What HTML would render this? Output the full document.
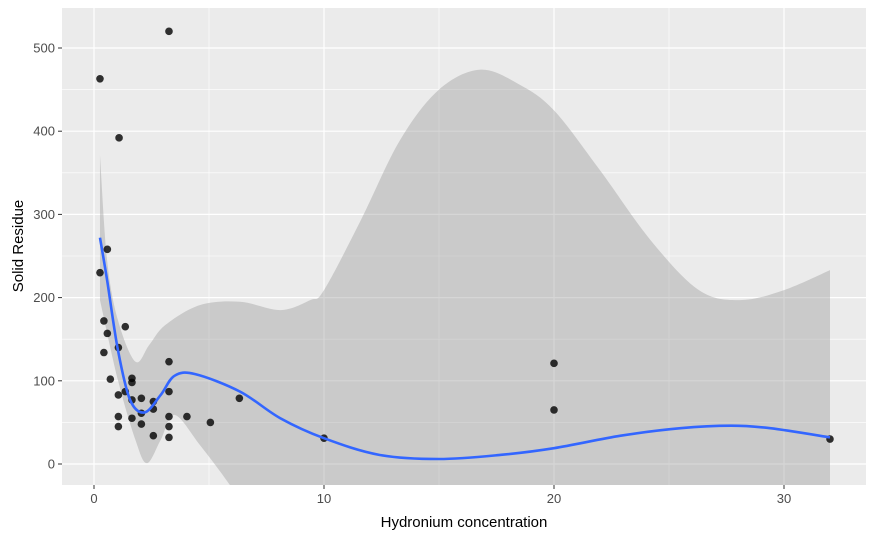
<!DOCTYPE html>
<html><head><meta charset="utf-8"><style>
html,body{margin:0;padding:0;background:#fff;overflow:hidden;width:875px;height:540px;font-family:"Liberation Sans",Arial,sans-serif}
svg{display:block;overflow:hidden}
</style></head><body>
<svg width="875" height="540" viewBox="0 0 875 540" xmlns="http://www.w3.org/2000/svg" id="chart">
<defs><clipPath id="clip"><rect x="62" y="8" width="804" height="477"/></clipPath></defs>
<rect x="62" y="8" width="804" height="477" fill="#ebebeb"/>
<g id="grid"></g>
<g id="band" clip-path="url(#clip)"></g>
<g id="pts" clip-path="url(#clip)"></g>
<g id="ticks"></g>
<text x="464" y="527" text-anchor="middle" font-size="15" fill="#000">Hydronium concentration</text>
<text transform="translate(23,246) rotate(-90)" text-anchor="middle" font-size="15" fill="#000">Solid Residue</text>
</svg>
<script>
const pointX=[0.26,1.09,3.26,0.58,0.26,0.43,0.58,1.36,1.06,0.43,0.71,1.65,1.65,3.26,1.06,1.36,1.65,2.06,2.58,2.58,3.26,2.06,1.06,1.65,3.26,4.04,5.06,1.06,2.06,3.26,2.58,3.26,6.32,20,20,10,32];
const pointY=[463,392,520,258,230,172,157,165,140,134,102,103,98,123,83,87,77,79,75,66,87,61,57,55,57,57,50,45,48,45,34,32,79,121,65,31,30];
const smoothX=[0.26,0.57,1.04,1.57,2.2,2.9,3.5,4.4,6.35,8.1,10,12.4,15,17.7,20,22.9,25.5,27.7,29.4,32];
const smoothY=[272,221,137,77,62,83,106,108,87,55,31,11,6,11,19,34,43,46,43,32];
const upperX=[0.26,0.57,1.04,1.8,2.4,3.1,4.6,6.35,8.1,9.4,10,11.6,13.3,15,16.8,18.5,20,22,24.2,26.3,28.1,30,32];
const upperY=[371,245,173,123,143,167,191,195,185,197,209,293,389,450,474,456,425,353,269,209,197,209,233];
const lowerX=[0.26,1.04,1.8,2.3,2.9,3.5,4.6,5.9,7.2,10,12.4,32];
const lowerY=[197,101,29,1,29,59,23,-25,-80,-190,-320,-500];
const xTicks=[0,10,20,30];
const yTicks=[0,100,200,300,400,500];
const xMinor=[5,15,25];
const yMinor=[50,150,250,350,450];

const sx=v=>94+v*23, sy=v=>464-v*0.832;
const NS="http://www.w3.org/2000/svg";
function mk(tag,attrs,parent){const e=document.createElementNS(NS,tag);for(const k in attrs)e.setAttribute(k,attrs[k]);parent.appendChild(e);return e;}
function curve(P,move){let s=(move?'M':'L')+P[0][0]+','+P[0][1];
 for(let i=0;i<P.length-1;i++){const p0=P[i-1]||P[i],p1=P[i],p2=P[i+1],p3=P[i+2]||p2;
  const c1=[p1[0]+(p2[0]-p0[0])/6,p1[1]+(p2[1]-p0[1])/6],c2=[p2[0]-(p3[0]-p1[0])/6,p2[1]-(p3[1]-p1[1])/6];
  s+='C'+c1+' '+c2+' '+p2;}return s;}
const grid=document.getElementById('grid'),ticks=document.getElementById('ticks');
xMinor.forEach(v=>{const l=mk('line',{x1:sx(v),x2:sx(v),y1:8,y2:485,stroke:'#fff','stroke-width':0.6},grid);});
yMinor.forEach(v=>{const l=mk('line',{x1:62,x2:866,y1:sy(v),y2:sy(v),stroke:'#fff','stroke-width':0.6},grid);});
xTicks.forEach(v=>{const l=mk('line',{x1:sx(v),x2:sx(v),y1:8,y2:485,stroke:'#fff','stroke-width':1.2},grid);
 mk('line',{x1:sx(v),x2:sx(v),y1:485,y2:489,stroke:'#333'},ticks);
 const t=mk('text',{x:sx(v),y:503,'text-anchor':'middle','font-size':13,fill:'#4d4d4d'},ticks);t.textContent=v;});
yTicks.forEach(v=>{const l=mk('line',{x1:62,x2:866,y1:sy(v),y2:sy(v),stroke:'#fff','stroke-width':1.2},grid);
 mk('line',{x1:58,x2:62,y1:sy(v),y2:sy(v),stroke:'#333'},ticks);
 const t=mk('text',{x:55,y:sy(v)+4.5,'text-anchor':'end','font-size':13,fill:'#4d4d4d'},ticks);t.textContent=v;});
const band=document.getElementById('band');
const up=upperX.map((x,i)=>[sx(x),sy(upperY[i])]);
const lo=lowerX.map((x,i)=>[sx(x),Math.min(sy(lowerY[i]),900)]).reverse();
const bp=mk('path',{d:curve(up,true)+curve(lo,false)+'Z',fill:'#999','fill-opacity':0.4},band);


const pts=document.getElementById('pts');
pointX.forEach((x,i)=>{const c=mk('circle',{cx:sx(x),cy:sy(pointY[i]),r:3.8,fill:'#000','fill-opacity':0.8},pts);

});
const ln=mk('path',{d:curve(smoothX.map((x,i)=>[sx(x),sy(smoothY[i])]),true),fill:'none',stroke:'#3366ff','stroke-width':2.6,'stroke-linejoin':'round'},pts);


</script>
</body></html>
